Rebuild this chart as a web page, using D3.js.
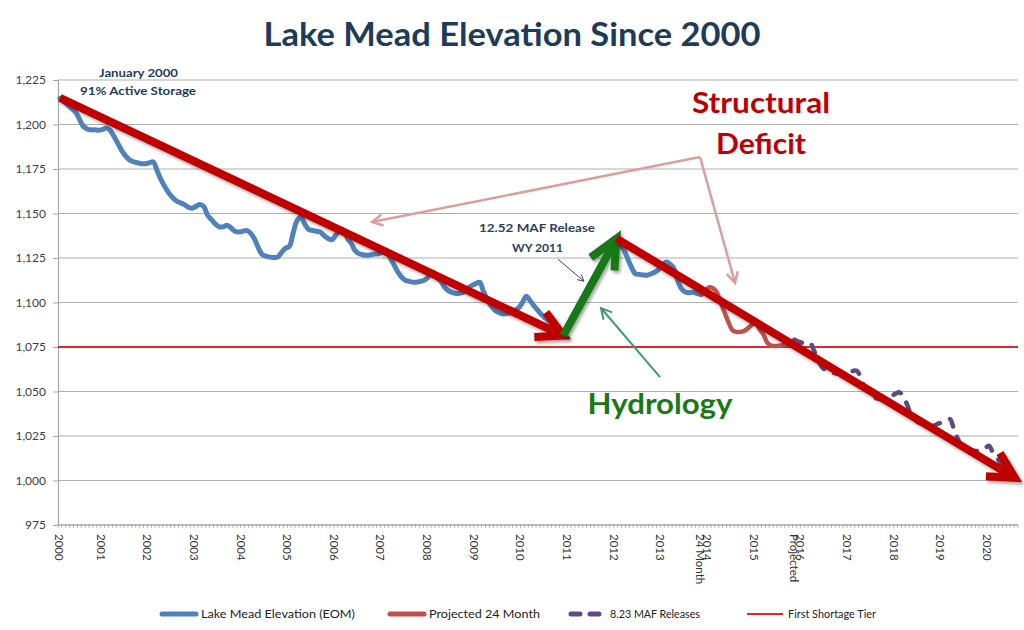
<!DOCTYPE html>
<html><head><meta charset="utf-8">
<script src="https://cdn.jsdelivr.net/npm/d3@7"></script>
<style>body{margin:0;background:#fff}svg{display:block}</style>
</head><body>
<svg id="chart" width="1024" height="630"></svg>
<script>
// ---------- DATA ----------
const monthCount = 247; // Jan 2000 .. Jul 2020, monthly categories
const yTicks = [975, 1000, 1025, 1050, 1075, 1100, 1125, 1150, 1175, 1200, 1225];
const yearLabels = ["2000","2001","2002","2003","2004","2005","2006","2007","2008","2009","2010",
  "2011","2012","2013","2014","2015","2016","2017","2018","2019","2020"];
const extraAxisLabels = ["24 Month", "Projected"];
const extraAxisLabelMonths = ["2013-09", "2015-10"];

// Lake Mead Elevation (EOM), from 2000-01
const elevationStart = "2000-01";
const elevation = [
 1214.7,1213,1211,1209,1207,1203,1199,1197.5,1197,1197,1196.8,1197.3,
 1198,1196.5,1193,1189,1185,1182,1180,1179,1178.5,1178,1178,1178.5,
 1179,1174,1169,1165,1161.5,1159,1157,1156,1155,1153.5,1153,1154,
 1155,1154,1149,1146.5,1144,1142.5,1142.5,1143.4,1142,1140,1139.6,1140,
 1140.5,1139,1136,1131,1127,1126,1125.5,1125.3,1125.5,1128,1130.5,1131.5,
 1139,1146,1148,1144,1141,1140.5,1140,1139.6,1137.5,1136,1135.3,1138,
 1141,1140.5,1136,1133,1129,1127.4,1126.8,1126.5,1126.8,1127.2,1127.4,1128.5,
 1129.3,1125,1121,1117,1114,1112.4,1111.8,1111.4,1111.5,1112,1112.8,1115,
 1117,1114,1112,1108.5,1106.5,1105.5,1105,1105.3,1106,1108,1109.6,1110.6,
 1111.4,1106,1101.5,1098,1095.5,1094.3,1093.6,1093.8,1094.3,1095.5,1097,1100,
 1103.5,1101,1098,1095.5,1093,1091,1089,1087,1085,1083,1083,1087,
 1092,1095.5,1098,1103,1107.7,1111.5,1115,1119,1122.7,1127.5,1132,1134.9,
 1133,1130,1125,1120,1116.2,1115.8,1115.5,1115.3,1116,1117,1118.5,1121,
 1122.7,1121.5,1119,1112,1107.5,1105.8,1105.5,1105.8,1105,1104.5
];
// Projected 24 Month
const projectedStart = "2013-10";
const projected24 = [
 1104.5,1106.5,1108.5,1108,1105.8,1100,1094.5,1089,1084.5,1083.5,1083.5,1084,
 1085.5,1087.5,1089,1085,1082,1077.5,1075.8,1075.5,1075.7,1076,1076.4,1077.5,1079
];
// 8.23 MAF Releases
const releasesStart = "2015-10";
const releases823 = [
 1079,1078,1077.4,1077.4,1077.4,1073,1068,1064,1062,1061,1060.5,1060,
 1060,1060.5,1061,1061.5,1061.7,1058,1052.5,1049.5,1047.5,1046.3,1045.8,1046,
 1046.5,1047.5,1048.8,1049.5,1047,1042.5,1037,1034,1032.5,1031.7,1031,1030.7,
 1031,1032,1032.6,1033.5,1034.5,1029,1023.5,1019.5,1018,1017,1016.7,1016.6,
 1016.7,1018,1019.5,1016,1013,1010,1008,1006,1003.5,1001.7
];
const shortageTier = 1075;

// Annotation arrows in data space: [month index, elevation]
const trendFrom = [[0,1215],[129.5,1081.4],[143.2,1135.9]];
const trendTo   = [[129.5,1081.4],[143.2,1135.9],[245.7,1001.5]];
const trendColors = ["#c00000","#167816","#c00000"];
const calloutFrom = [[164.7,1181.7],[164.7,1181.7],[154.4,1058.1],[128.1,1124.4]];
const calloutTo   = [[80.3,1145.2],[173.7,1111],[139.2,1096.9],[134.8,1112]];
const calloutColors = ["#dd9f9e","#dd9f9e","#3f9c70","#3a4656"];

// ---------- CHART ----------
const svg = d3.select("#chart");
const plot = {left:58, right:1018, top:80, bottom:525};
const font = "Lato, 'Open Sans', sans-serif";

const months = d3.range(monthCount).map(i => {
  const yr = 2000 + Math.floor(i/12), m = i % 12 + 1;
  return yr + "-" + String(m).padStart(2,"0");
});
const mi = k => months.indexOf(k);

const x = d3.scaleLinear().domain([-0.5, monthCount - 0.5]).range([plot.left, plot.right]);
const y = d3.scaleLinear().domain([975, 1225]).range([plot.bottom, plot.top]);

const defs = svg.append("defs");
const f = defs.append("filter").attr("id","shadow").attr("x","-10%").attr("y","-10%").attr("width","130%").attr("height","130%");
f.append("feDropShadow").attr("dx",2).attr("dy",2.5).attr("stdDeviation",1.8).attr("flood-color","#000").attr("flood-opacity",0.35);

// gridlines
svg.append("g").selectAll("line").data(yTicks).join("line")
  .attr("x1", plot.left).attr("x2", plot.right)
  .attr("y1", d => y(d)).attr("y2", d => y(d))
  .attr("stroke", "#b0b0b0").attr("stroke-width", 1.2);

// y axis
const yAxis = svg.append("g").attr("transform", `translate(${plot.left},0)`)
  .call(d3.axisLeft(y).tickValues(yTicks).tickSize(5).tickPadding(7).tickFormat(d3.format(",")));
yAxis.select(".domain").attr("stroke","#a6a6a6").attr("stroke-width",1.2);
yAxis.selectAll(".tick line").attr("stroke","#a6a6a6");
yAxis.selectAll("text").attr("font-family", font).attr("font-size", 12).attr("fill", "#404040");

// x axis baseline + monthly ticks
svg.append("line").attr("x1", plot.left).attr("x2", plot.right)
  .attr("y1", plot.bottom).attr("y2", plot.bottom).attr("stroke","#a6a6a6").attr("stroke-width",1.2);
svg.append("g").selectAll("line").data(d3.range(monthCount + 1)).join("line")
  .attr("x1", d => x(d - 0.5)).attr("x2", d => x(d - 0.5))
  .attr("y1", plot.bottom - 1).attr("y2", plot.bottom + 3)
  .attr("stroke","#a6a6a6").attr("stroke-width",0.8);

// year labels (rotated)
const yearPos = (lbl, i) => Math.max(x(0) - 0.7, x(12 * i - 1.4));
svg.append("g").selectAll("text").data(yearLabels).join("text")
  .attr("transform", (d,i) => `translate(${yearPos(d,i)},534) rotate(90)`)
  .attr("dominant-baseline","central")
  .attr("font-family", font).attr("font-size", 11.5).attr("fill","#333")
  .text(d => d);
const extraOffsets = [0.7, -0.1];
svg.append("g").selectAll("text").data(extraAxisLabels).join("text")
  .attr("transform", (d,i) => `translate(${x(mi(extraAxisLabelMonths[i]) + extraOffsets[i])},534) rotate(90)`)
  .attr("dominant-baseline","central")
  .attr("font-family", font).attr("font-size", 11.5).attr("fill","#333")
  .text(d => d);

// shortage tier
svg.append("line").attr("x1", plot.left).attr("x2", plot.right)
  .attr("y1", y(shortageTier)).attr("y2", y(shortageTier))
  .attr("stroke", "#e0262b").attr("stroke-width", 2);

// series
const line = d3.line().x(d => x(d[0])).y(d => y(d[1])).curve(d3.curveCatmullRom.alpha(0.5));
const toPts = (arr, start) => arr.map((v,i) => [mi(start) + i, v]);

svg.append("path").datum(toPts(elevation, elevationStart)).attr("d", line)
  .attr("fill","none").attr("stroke","#4f81bd").attr("stroke-width",5)
  .attr("stroke-linejoin","round").attr("stroke-linecap","round");
svg.append("path").datum(toPts(projected24, projectedStart)).attr("d", line)
  .attr("fill","none").attr("stroke","#c0504d").attr("stroke-width",4.5)
  .attr("stroke-linejoin","round").attr("stroke-linecap","round");
svg.append("path").datum(toPts(releases823, releasesStart)).attr("d", line)
  .attr("fill","none").attr("stroke","#5b4a85").attr("stroke-width",4.5)
  .attr("stroke-dasharray","8,11").attr("stroke-linejoin","round").attr("stroke-linecap","round");

// arrows
function arrow(g, from, to, color, width, headLen, headAng, filter) {
  const x1 = x(from[0]), y1 = y(from[1]), x2 = x(to[0]), y2 = y(to[1]);
  const a = Math.atan2(y2 - y1, x2 - x1) + Math.PI;
  const r = headAng * Math.PI / 180;
  const w1 = [x2 + headLen*Math.cos(a - r), y2 + headLen*Math.sin(a - r)];
  const w2 = [x2 + headLen*Math.cos(a + r), y2 + headLen*Math.sin(a + r)];
  const gg = g.append("g");
  if (filter) gg.attr("filter","url(#shadow)");
  gg.append("path").attr("d", `M${x1},${y1}L${x2},${y2}M${w1[0]},${w1[1]}L${x2},${y2}L${w2[0]},${w2[1]}`)
    .attr("fill","none").attr("stroke", color).attr("stroke-width", width)
    .attr("stroke-linejoin","miter").attr("stroke-linecap","butt");
}
const ag = svg.append("g");
calloutFrom.forEach((p,i) => arrow(ag, p, calloutTo[i], calloutColors[i], i === 3 ? 1 : (i === 2 ? 2 : 2.5), i === 3 ? 7 : 12, 28, false));
trendFrom.forEach((p,i) => arrow(ag, p, trendTo[i], trendColors[i], 8, i === 1 ? 32 : 29, i === 1 ? 25 : 28, true));

// annotations text
const t = (txt, cx, cy, size, color, len, weight) => svg.append("text")
  .attr("x", cx).attr("y", cy).attr("text-anchor","middle")
  .attr("font-family", font).attr("font-weight", weight || "bold")
  .attr("font-size", size).attr("fill", color)
  .attr("textLength", len).attr("lengthAdjust","spacingAndGlyphs").text(txt);

t("Lake Mead Elevation Since 2000", 512, 46, 32, "#1f3b5c", 497);
t("January 2000", 138.5, 77, 11.5, "#1f3b5c", 79);
t("91% Active Storage", 138, 94.5, 11.5, "#1f3b5c", 116);
t("Structural", 761, 113, 29, "#c00000", 138);
t("Deficit", 761, 154, 29, "#c00000", 90);
t("12.52 MAF Release", 537, 232, 11.5, "#2b3f5c", 116);
t("WY 2011", 537.5, 252, 11.5, "#2b3f5c", 51);
t("Hydrology", 660, 414, 29, "#177a17", 145);

// legend
const legendNames = ["Lake Mead Elevation (EOM)", "Projected 24 Month", "8.23 MAF Releases", "First Shortage Tier"];
const legendColors = ["#4f81bd", "#c0504d", "#5b4a85", "#e0262b"];
const legendX = [160, 388, 569, 747];
const legendLen = [154, 111, 90, 88];
const ly = 614;
const lg = svg.append("g");
legendNames.forEach((n,i) => {
  const x0 = legendX[i];
  const sw = i === 3 ? 2 : 5;
  lg.append("line").attr("x1", x0 + (i===3?0:2)).attr("x2", x0 + (i===2 ? 31 : 36)).attr("y1", ly).attr("y2", ly)
    .attr("stroke", legendColors[i]).attr("stroke-width", sw)
    .attr("stroke-linecap", i === 3 ? "butt" : "round")
    .attr("stroke-dasharray", i === 2 ? "9,10" : null);
  lg.append("text").attr("x", x0 + 41).attr("y", ly + 4).attr("font-family", font)
    .attr("font-size", 11.5).attr("fill","#222")
    .attr("textLength", legendLen[i]).attr("lengthAdjust","spacingAndGlyphs").text(n);
});
</script>
</body></html>
